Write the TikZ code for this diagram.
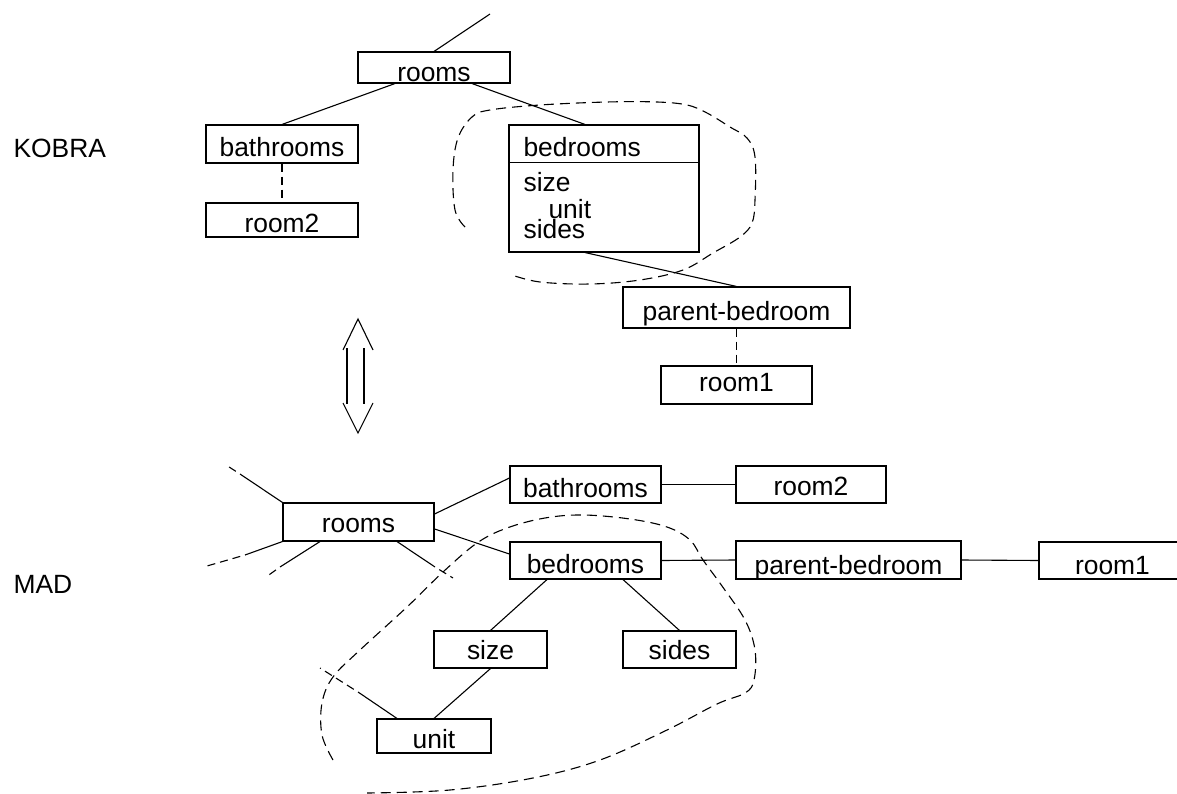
\documentclass[tikz,border=0pt]{standalone}
\usepackage{fontspec}
\setmainfont{Liberation Sans}
\usetikzlibrary{calc}
\begin{document}
\begin{tikzpicture}[x=1pt, y=-1pt, line width=1.1pt,
  font=\fontsize{26.4}{30}\selectfont,
  box/.style={draw, rectangle, inner sep=0pt, text depth=0pt},
  bx/.style n args={3}{minimum width=#1pt, minimum height=#2pt, text height=#3pt},
  dlink/.style={dash pattern=on 8pt off 5pt},
  fade/.style={dash pattern=on 8pt off 5pt, dash phase=8pt},
  region/.style={dash pattern=on 10pt off 6pt},
  lbl/.style={inner sep=0pt, anchor=base west}]
\useasboundingbox (0,0) rectangle (1177,794);

% ---------- section labels ----------
\node[lbl] (kobra) at (13,158) {KOBRA};
\node[lbl] (mad) at (13,593) {MAD};

% ---------- KOBRA tree ----------
\node[box, bx={152}{31}{29}] (krooms) at (434,67.5) {rooms};
\node[box, bx={152}{38}{26}] (kbath) at (282,144) {bathrooms};
\node[box, bx={152}{34}{26}] (kroom2) at (282,220) {room2};
\node[box, bx={190}{127}{0}] (kbed) at (604,188.5) {};
\draw ($(kbed.north west)+(0,38)$) -- ($(kbed.north east)+(0,38)$);
\node[lbl] (kbedname) at (523,157) {bedrooms};
\node[lbl] (kbedsize) at (523,192) {size};
\node[lbl] (kbedunit) at (548,219) {unit};
\node[lbl] (kbedsides) at (523,239) {sides};
\node[box, bx={227}{41}{25}] (kparent) at (736.5,307.5) {parent-bedroom};
\node[box, bx={151}{38}{12}] (kroom1) at (736.5,385) {room1};

\coordinate (ktop) at (490,14);
\draw (krooms.north) -- (ktop);
\draw ($(krooms.south)+(-39,0)$) -- (kbath.north);
\draw ($(krooms.south)+(38,0)$) -- ($(kbed.north)+(-19,0)$);
\draw[dlink] (kbath.south) -- (kroom2.north);
\draw ($(kbed.south)+(-19,0)$) -- (kparent.north);
\draw[dlink] (kparent.south) -- (kroom1.north);

% region around bedrooms
\draw[region] plot[smooth, tension=0.6] coordinates {
  (465,227) (455,210) (453,170) (458,138) (472,117) (490,110)
  (540,105) (607,102) (657,102) (687,105) (707,113) (730,127)
  (747,138) (755,157) (755,200) (752,223) (740,237) (713,253)
  (683,270) (640,280) (590,284) (540,282) (512,275)};

% ---------- correspondence arrow ----------
\draw (347,348) -- (347,404);
\draw (364,348) -- (364,404);
\draw (343,350) -- (358,319) -- (373,350);
\draw (343,403) -- (358,433) -- (373,403);

% ---------- MAD graph ----------
\node[box, bx={151}{38}{20}] (mrooms) at (358.5,522) {rooms};
\node[box, bx={151}{37}{25}] (mbath) at (585.5,484.5) {bathrooms};
\node[box, bx={150}{37}{21}] (mroom2) at (811,484.5) {room2};
\node[box, bx={151}{37}{25}] (mbed) at (585.5,560.5) {bedrooms};
\node[box, bx={225}{38}{28}] (mparent) at (848.5,560) {parent-bedroom};
\node[box, bx={147}{37}{27}] (mroom1) at (1112.5,560.5) {room1};
\node[box, bx={113}{37}{19}] (msize) at (490.5,649.5) {size};
\node[box, bx={113}{37}{19}] (msides) at (679.5,649.5) {sides};
\node[box, bx={114}{34}{24}] (munit) at (434,736) {unit};

\draw ($(mrooms.east)+(0,-8)$) -- ($(mbath.west)+(0,-6.5)$);
\draw ($(mrooms.east)+(0,7)$) -- ($(mbed.west)+(0,-6.5)$);
\draw (mbath.east) -- (mroom2.west);
\draw (mbed.east) -- (mparent.west);
\draw (mparent.east) -- (mroom1.west);
\draw ($(mbed.south)+(-38.5,0)$) -- (msize.north);
\draw ($(mbed.south)+(37.5,0)$) -- (msides.north);
\draw (msize.south) -- (munit.north);

% loose edges leaving the graph
\coordinate (s1a) at (240,474); \coordinate (s1b) at (226,465);
\coordinate (s2a) at (245,555); \coordinate (s2b) at (207,566);
\coordinate (s3a) at (280,567); \coordinate (s3b) at (266,577);
\coordinate (s4a) at (435,567); \coordinate (s4b) at (453,578);
\coordinate (s5a) at (358,692); \coordinate (s5b) at (320,668);
\draw (mrooms.north west) -- (s1a);
\draw[fade] (s1a) -- (s1b);
\draw (mrooms.south west) -- (s2a);
\draw[fade] (s2a) -- (s2b);
\draw ($(mrooms.south)+(-38.5,0)$) -- (s3a);
\draw[fade] (s3a) -- (s3b);
\draw ($(mrooms.south)+(38.5,0)$) -- (s4a);
\draw[fade] (s4a) -- (s4b);
\draw ($(munit.north)+(-37,0)$) -- (s5a);
\draw[fade] (s5a) -- (s5b);

% region around bedrooms and its parts
\draw[region] plot[smooth, tension=0.6] coordinates {
  (333,760) (322,735) (322,703) (333,677) (360,650) (407,607)
  (443,572) (477,543) (507,528) (545,518) (583,515) (630,519)
  (667,527) (690,540) (703,560) (722,586) (745,620) (755,650)
  (754,680) (745,693) (717,704) (667,730) (600,760) (533,778)
  (450,790) (367,793)};
\end{tikzpicture}
\end{document}
